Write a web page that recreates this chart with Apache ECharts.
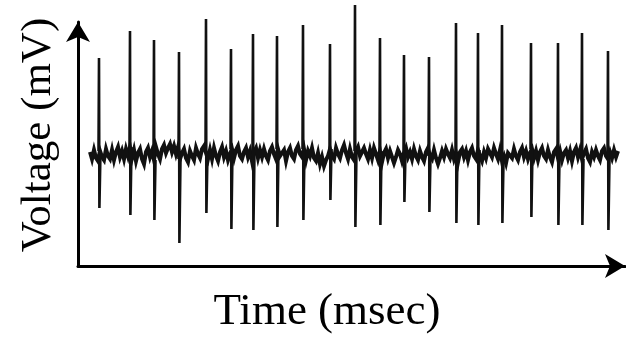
<!DOCTYPE html>
<html><head><meta charset="utf-8">
<script src="https://cdn.jsdelivr.net/npm/echarts@6/dist/echarts.min.js"></script>
<style>html,body{margin:0;padding:0;background:#fff}#c{width:626px;height:338px}</style>
</head><body><div id="c"></div>
<script>
// Spike times (msec), peak and trough voltages (relative to baseline)
var spikeTimes = [21, 52, 76, 101, 128, 153, 175, 199, 225, 252, 277, 302, 326, 351, 378, 400, 424, 453, 480, 504, 530];
var spikeTops = [97, 124, 115, 103, 136, 106, 121, 119, 130, 111, 150, 117, 100, 98, 132, 122, 130, 112, 112, 122, 104];
var spikeBottoms = [-53, -60, -65, -88, -58, -74, -75, -72, -65, -45, -72, -70, -47, -57, -68, -70, -68, -62, -70, -70, -75];
// Baseline trace, sampled every 2 msec from t = 12
var baseStart = 12, baseStep = 2;
var baseline = [
3,-4,5,-3,-6,4,-2,-5,6,-1,-4,5,-5,3,8,-2,4,-4,6,-1,
8,-3,5,-6,2,6,-4,-9,3,7,-2,4,-5,8,1,-4,6,10,2,7,
11,3,9,1,8,-4,2,6,-3,-7,4,-1,-5,7,1,-3,6,9,2,-4,
5,-4,7,-1,-6,3,8,-2,4,-5,1,6,-3,5,9,-1,-4,3,7,-2,
4,-6,3,7,-3,5,-2,6,-1,-5,4,8,1,-4,6,-1,-3,5,-6,3,
7,-1,-4,5,9,1,-2,6,-5,4,-1,7,-3,-6,2,-9,-2,-11,-5,-1,
6,-1,-4,7,1,-3,5,10,2,-4,6,-2,-5,4,8,-1,-3,7,1,-4,
5,-3,7,1,-5,4,-7,2,6,-3,4,-2,-8,-2,5,1,-6,2,7,-2,
3,-4,6,-1,-5,4,-2,-6,3,7,-1,-4,5,-3,-9,-3,4,-2,6,1,
-3,5,-4,2,-7,3,6,-2,4,-5,3,7,-1,-4,5,-1,-6,3,-3,6,
4,-2,7,1,-4,5,-6,-1,-8,2,4,-3,6,-1,-5,3,7,-2,4,-4,
2,6,-3,4,-5,3,7,-1,-4,5,-2,-7,3,6,-3,4,-5,2,5,-3,
4,-6,3,7,-2,5,-4,2,6,-3,-7,3,-2,5,-1,-5,4,7,-1,-4,
3,-3,5,-2,4
];

var baseData = baseline.map(function (v, i) { return [baseStart + i * baseStep, v]; });
var spikeData = [];
spikeTimes.forEach(function (t, k) {
  var idx = Math.max(0, Math.min(baseline.length - 1, Math.round((t - baseStart) / baseStep)));
  var b = baseline[idx];
  spikeData.push([t - 0.5, b], [t, spikeTops[k]], [t + 0.4, spikeBottoms[k]], [t + 1.5, b], '-');
});

var chart = echarts.init(document.getElementById('c'), null, {renderer: 'canvas'});
function axisLine() {
  return {show: true, onZero: false, symbol: ['none', 'arrow'], symbolSize: [18, 20], lineStyle: {color: '#000', width: 3}};
}
chart.setOption({
  animation: false,
  backgroundColor: '#fff',
  grid: {left: 78, right: 1, top: 22, bottom: 72},
  xAxis: {type: 'value', min: 0, max: 547, axisLine: axisLine(), axisTick: {show: false}, axisLabel: {show: false}, splitLine: {show: false}},
  yAxis: {type: 'value', min: -111, max: 133, axisLine: axisLine(), axisTick: {show: false}, axisLabel: {show: false}, splitLine: {show: false}},
  series: [{
    type: 'line', data: baseData, showSymbol: false, clip: false,
    lineStyle: {color: '#111', width: 4, join: 'miter'}
  }, {
    type: 'line', data: spikeData, showSymbol: false, clip: false, connectNulls: false,
    lineStyle: {color: '#111', width: 2.6}
  }],
  graphic: [
    {type: 'text', x: 39, y: 135, rotation: Math.PI / 2,
     style: {text: 'Voltage (mV)', font: '43px "Liberation Serif"', fill: '#000', align: 'center', verticalAlign: 'middle'}},
    {type: 'text', x: 327, y: 312,
     style: {text: 'Time (msec)', font: '45px "Liberation Serif"', fill: '#000', align: 'center', verticalAlign: 'middle'}}
  ]
});
</script></body></html>
